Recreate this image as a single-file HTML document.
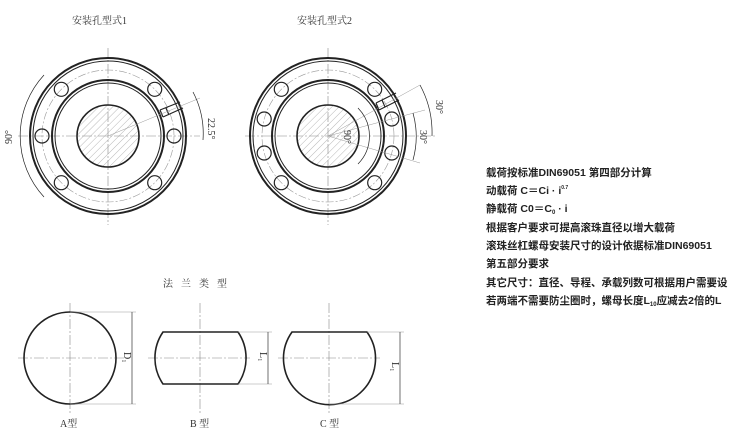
<!DOCTYPE html>
<html><head><meta charset="utf-8"><style>
html,body{margin:0;padding:0;background:#fff;width:735px;height:439px;overflow:hidden}
svg{display:block}
.t{font-family:"Liberation Sans","Noto Sans CJK SC",sans-serif;font-size:10.5px;font-weight:bold;fill:#222}
.s{font-family:"Liberation Serif","Noto Serif CJK SC",serif;font-size:10px;fill:#333}
</style></head><body>
<svg width="735" height="439" viewBox="0 0 735 439" xmlns="http://www.w3.org/2000/svg">
<defs>
<pattern id="h" width="5" height="5" patternUnits="userSpaceOnUse" patternTransform="rotate(45)">
<line x1="0" y1="0" x2="0" y2="5" stroke="#999" stroke-width="0.7"/></pattern>
</defs>
<text class="s" x="72" y="24">安装孔型式1</text>
<text class="s" x="297" y="24">安装孔型式2</text>

<!-- Flange 1 -->
<g fill="none" stroke="#222">
<line x1="108" y1="48" x2="108" y2="225" stroke="#888" stroke-width="0.6" stroke-dasharray="10,2,2,2"/>
<line x1="18" y1="136" x2="200" y2="136" stroke="#888" stroke-width="0.6" stroke-dasharray="10,2,2,2"/>
<circle cx="108" cy="136" r="78" stroke-width="2"/>
<circle cx="108" cy="136" r="75" stroke-width="1"/>
<circle cx="108" cy="136" r="66" stroke="#999" stroke-width="0.6" stroke-dasharray="8,2,2,2"/>
<circle cx="108" cy="136" r="56" stroke-width="2"/>
<circle cx="108" cy="136" r="53" stroke-width="1"/>
<circle cx="108" cy="136" r="31" stroke-width="1.6" fill="url(#h)"/>
<circle cx="174" cy="136" r="7" stroke-width="1.2"/>
<circle cx="42" cy="136" r="7" stroke-width="1.2"/>
<circle cx="154.7" cy="89.3" r="7" stroke-width="1.2"/>
<circle cx="61.3" cy="89.3" r="7" stroke-width="1.2"/>
<circle cx="154.7" cy="182.7" r="7" stroke-width="1.2"/>
<circle cx="61.3" cy="182.7" r="7" stroke-width="1.2"/>
<path d="M160 110 L180 102 M163 117 L183 108 M160 110 L163 117 M166 108 L169 115" stroke-width="1.2"/>
<line x1="108" y1="136" x2="200" y2="98" stroke="#999" stroke-width="0.5"/>
<path d="M193 92 A90 90 0 0 1 203 140" stroke-width="0.7"/>
<path d="M44 75 A90 90 0 0 0 44 197" stroke-width="0.7"/>
</g>
<text class="s" transform="translate(208,118) rotate(90)" font-size="9">22.5°</text>
<text class="s" transform="translate(12,144) rotate(-90)" font-size="9">90°</text>

<!-- Flange 2 -->
<g fill="none" stroke="#222">
<line x1="328" y1="48" x2="328" y2="225" stroke="#888" stroke-width="0.6" stroke-dasharray="10,2,2,2"/>
<line x1="245" y1="136" x2="435" y2="136" stroke="#888" stroke-width="0.6" stroke-dasharray="10,2,2,2"/>
<circle cx="328" cy="136" r="78" stroke-width="2"/>
<circle cx="328" cy="136" r="75" stroke-width="1"/>
<circle cx="328" cy="136" r="66" stroke="#999" stroke-width="0.6" stroke-dasharray="8,2,2,2"/>
<circle cx="328" cy="136" r="56" stroke-width="2"/>
<circle cx="328" cy="136" r="53" stroke-width="1"/>
<circle cx="328" cy="136" r="31" stroke-width="1.6" fill="url(#h)"/>
<circle cx="391.8" cy="119" r="7" stroke-width="1.2"/>
<circle cx="391.8" cy="153" r="7" stroke-width="1.2"/>
<circle cx="264.2" cy="119" r="7" stroke-width="1.2"/>
<circle cx="264.2" cy="153" r="7" stroke-width="1.2"/>
<circle cx="374.7" cy="89.3" r="7" stroke-width="1.2"/>
<circle cx="281.3" cy="89.3" r="7" stroke-width="1.2"/>
<circle cx="374.7" cy="182.7" r="7" stroke-width="1.2"/>
<circle cx="281.3" cy="182.7" r="7" stroke-width="1.2"/>
<path d="M376 103 L396 93 M379 110 L399 100 M376 103 L379 110 M382 100 L385 107" stroke-width="1.2"/>
<line x1="328" y1="136" x2="420" y2="85" stroke="#999" stroke-width="0.5"/>
<line x1="328" y1="136" x2="425" y2="110" stroke="#999" stroke-width="0.5"/>
<line x1="328" y1="136" x2="420" y2="163" stroke="#999" stroke-width="0.5"/>
<path d="M420 85 A100 100 0 0 1 432 136" stroke-width="0.7"/>
<path d="M413 113 A88 88 0 0 1 413 160" stroke-width="0.7"/>
<path d="M358 108 A40 40 0 0 1 358 164" stroke-width="0.7"/>
</g>
<text class="s" transform="translate(436,100) rotate(90)" font-size="9">30°</text>
<text class="s" transform="translate(420,130) rotate(90)" font-size="9">30°</text>
<text class="s" transform="translate(344,130) rotate(90)" font-size="9">90°</text>

<!-- Right text -->
<text class="t" x="486" y="176">载荷按标准DIN69051 第四部分计算</text>
<text class="t" x="486" y="194">动载荷 C＝Ci · i<tspan font-size="5" dy="-5">0.7</tspan></text>
<text class="t" x="486" y="212">静载荷 C0＝C<tspan font-size="6" dy="2">0</tspan><tspan dy="-2"> · i</tspan></text>
<text class="t" x="486" y="231">根据客户要求可提高滚珠直径以增大载荷</text>
<text class="t" x="486" y="249">滚珠丝杠螺母安装尺寸的设计依据标准DIN69051</text>
<text class="t" x="486" y="267">第五部分要求</text>
<text class="t" x="486" y="286">其它尺寸：直径、导程、承载列数可根据用户需要设</text>
<text class="t" x="486" y="304">若两端不需要防尘圈时，螺母长度L<tspan font-size="6" dy="2">10</tspan><tspan dy="-2">应减去2倍的L</tspan></text>

<!-- Bottom -->
<text class="s" x="163" y="287" letter-spacing="8">法兰类型</text>
<g fill="none" stroke="#222">
<g stroke="#888" stroke-width="0.6" stroke-dasharray="10,2,2,2">
<line x1="70" y1="303" x2="70" y2="414"/>
<line x1="18" y1="358" x2="125" y2="358"/>
<line x1="200" y1="303" x2="200" y2="414"/>
<line x1="148" y1="358" x2="250" y2="358"/>
<line x1="329" y1="303" x2="329" y2="414"/>
<line x1="278" y1="358" x2="380" y2="358"/>
</g>
<circle cx="70" cy="358" r="46" stroke-width="1.6"/>
<path d="M163 332 L238 332 A46 46 0 0 1 238 384 L163 384 A46 46 0 0 1 163 332 Z" stroke-width="1.6"/>
<path d="M292 332 L367 332 A46 46 0 1 1 292 332 Z" stroke-width="1.6"/>
<g stroke="#999" stroke-width="0.6">
<line x1="70" y1="312" x2="136" y2="312"/><line x1="70" y1="404" x2="136" y2="404"/>
<line x1="238" y1="332" x2="272" y2="332"/><line x1="238" y1="384" x2="272" y2="384"/>
<line x1="367" y1="332" x2="404" y2="332"/><line x1="329" y1="404" x2="404" y2="404"/>
</g>
<g stroke="#333" stroke-width="0.7">
<line x1="132" y1="312" x2="132" y2="404"/>
<line x1="268" y1="332" x2="268" y2="384"/>
<line x1="400" y1="332" x2="400" y2="404"/>
</g>
</g>
<text class="s" transform="translate(124,352) rotate(90)">D₁</text>
<text class="s" transform="translate(260,352) rotate(90)">L₁</text>
<text class="s" transform="translate(392,362) rotate(90)">L₁</text>
<text class="s" x="60" y="427">A型</text>
<text class="s" x="190" y="427">B 型</text>
<text class="s" x="320" y="427">C 型</text>
</svg>
</body></html>
